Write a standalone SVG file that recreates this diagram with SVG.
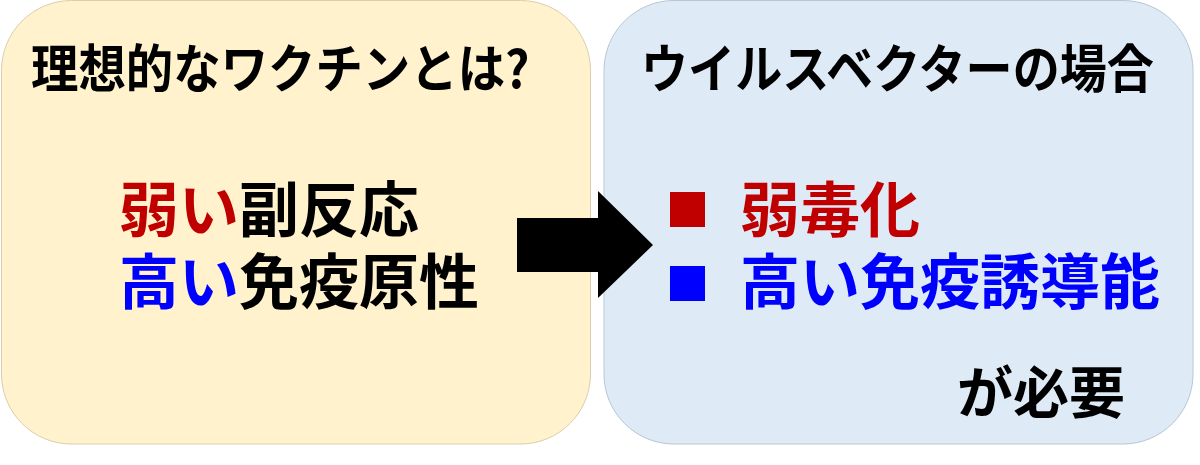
<svg xmlns="http://www.w3.org/2000/svg" width="1200" height="465" viewBox="0 0 1200 465">
<style>
.t{font-family:"Noto Sans CJK JP","Noto Sans CJK SC",sans-serif;font-weight:700}
.blk{fill:#000}
.red{fill:#C00000}
.blu{fill:#0000FF}
</style>
<rect x="0" y="0" width="1200" height="465" fill="#FFFFFF"/>
<g id="left-box">
<rect x="1.5" y="0.5" width="589" height="443.5" rx="70" ry="70" fill="#FFF2CC" stroke="#D9CFAE" stroke-width="1"/>
<text class="t blk" transform="translate(31,88) scale(0.912,1)" x="0" y="0" font-size="52">理想的なワクチンとは?</text>
<text class="t" font-size="60"><tspan x="119" y="232" class="red">弱い</tspan><tspan class="blk">副反応</tspan><tspan x="119" y="304" class="blu">高い</tspan><tspan class="blk">免疫原性</tspan></text>
</g>
<g id="right-box">
<rect x="604" y="0.5" width="589" height="443.5" rx="70" ry="70" fill="#DEEBF7" stroke="#B8C6D3" stroke-width="1"/>
<text class="t blk" transform="translate(641,88) scale(0.906,1)" x="0" y="0" font-size="52">ウイルスベクターの場合</text>
<rect x="670" y="192" width="35" height="35" fill="#C00000"/>
<rect x="670" y="266" width="35" height="35" fill="#0000FF"/>
<text class="t" font-size="60"><tspan x="740" y="232" class="red">弱毒化</tspan><tspan x="740" y="304" class="blu">高い免疫誘導能</tspan></text>
<text class="t blk" x="957" y="413" font-size="56">が必要</text>
</g>
<g id="connectors">
<polygon points="517,218 598,218 598,191 653,245 598,298 598,272 517,272" fill="#000000"/>
</g>
</svg>
